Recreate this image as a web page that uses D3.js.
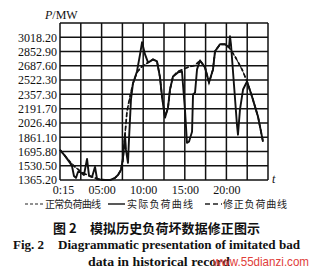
<!DOCTYPE html>
<html><head><meta charset="utf-8">
<script src="https://cdn.jsdelivr.net/npm/d3@7"></script>
<style>
html,body{margin:0;padding:0;background:#fff;}
svg{display:block;}
</style></head>
<body>
<script>
// ---------- data ----------
const yTicks = [1365.20,1530.50,1695.80,1861.10,2026.40,2191.70,2357.30,2522.30,2687.60,2852.90,3018.20];
const yTickLabels = ["1365.20","1530.50","1695.80","1861.10","2026.40","2191.70","2357.30","2522.30","2687.60","2852.90","3018.20"];
const xTicks = [0,5,10,15,20];
const xTickLabels = ["0:15","05:00","10:00","15:00","20:00"];
const xGrid = [0,2.5,5,7.5,10,12.5,15,17.5,20,22.5,25];

// normal load curve (正常负荷曲线)
const normalT = [0,0.60,1.20,1.80,2.40,3.00,3.61,4.21,4.81,5.41,6.01,6.61,6.97,7.33,7.57,7.81,8.05,8.41,8.77,9.25,9.74,10.22,10.82,11.18,11.66,12.02,12.26,12.62,12.98,13.22,13.58,14.18,14.78,15.63,16.23,16.83,17.43,17.91,18.39,18.63,19.23,19.83,20.31,21.03,21.88,22.48,23.08,23.80,24.40];
const normalV = [1714,1645,1575,1517,1470,1435,1412,1389,1371,1365,1365,1389,1423,1482,1598,1889,2157,2331,2483,2611,2669,2704,2739,2762,2739,2553,2331,2099,2203,2413,2564,2622,2646,2681,2692,2750,2669,2494,2646,2855,2937,2937,2902,2797,2646,2506,2331,2099,1808];

// actual load curve with bad data (实际负荷曲线)
const actualT = [0,0.60,1.20,1.44,1.68,1.92,2.16,2.40,2.88,3.25,3.49,3.85,4.21,4.45,4.81,5.41,6.01,6.61,6.97,7.33,7.57,7.81,7.93,8.17,8.29,8.53,8.77,9.25,9.62,9.86,10.22,10.58,10.82,11.18,11.66,12.02,12.26,12.62,12.98,13.22,13.58,14.18,14.66,15.02,15.26,15.50,15.87,15.99,16.23,16.47,16.83,17.43,17.91,18.39,18.63,19.23,19.83,20.31,20.43,20.55,20.91,21.27,21.39,21.63,22.00,22.48,23.08,23.80,24.40];
const actualV = [1714,1645,1563,1528,1412,1389,1458,1458,1423,1610,1412,1400,1517,1377,1371,1365,1365,1389,1423,1482,1621,1889,1714,1563,1831,2296,2483,2622,2820,2960,2820,2727,2739,2762,2739,2553,2331,2087,2203,2413,2564,2611,2622,2180,1796,1808,1924,2355,2378,2646,2750,2669,2494,2646,2855,2937,2937,2902,3030,2937,2471,2005,1889,2180,2413,2506,2331,2099,1808];

// corrected load curve (修正负荷曲线)
const correctedT = [0,0.60,1.20,1.80,2.40,3.00,3.61,4.21,4.81,5.41,6.01,6.61,6.97,7.33,7.57,7.81,8.05,8.41,8.77,9.25,9.74,10.22,10.82,11.18,11.66,12.02,12.26,12.62,12.98,13.22,13.58,14.18,14.78,15.63,16.23,16.83,17.43,17.91,18.39,18.63,19.23,19.83,20.31,21.03,21.88,22.48,23.08,23.80,24.40];
const correctedV = [1714,1645,1575,1517,1470,1435,1412,1389,1371,1365,1365,1389,1423,1482,1598,1889,2157,2331,2483,2611,2669,2704,2739,2762,2739,2553,2331,2099,2203,2413,2564,2622,2646,2681,2692,2750,2669,2494,2646,2855,2937,2937,2902,2797,2646,2506,2331,2099,1808];

const legendLabels = ["正常负荷曲线","实际负荷曲线","修正负荷曲线"];

// ---------- drawing ----------
const W = 317, H = 271;
const svg = d3.select("body").append("svg").attr("width",W).attr("height",H);
const x = d3.scaleLinear().domain([0,25]).range([60,268]);
const y = d3.scaleLinear().domain([1365.2,3183.5]).range([180,23]);
const serif = "'Liberation Serif','Times New Roman',serif";
const cjk = "'Noto Sans CJK SC',sans-serif";

// grid
const g = svg.append("g");
g.selectAll("line.v").data(xGrid).join("line")
  .attr("x1",d=>x(d)).attr("x2",d=>x(d)).attr("y1",23).attr("y2",180)
  .attr("stroke","#111").attr("stroke-width",1.5);
g.selectAll("line.h").data(yTicks.concat([3183.5])).join("line")
  .attr("y1",d=>y(d)).attr("y2",d=>y(d)).attr("x1",60).attr("x2",268)
  .attr("stroke","#111").attr("stroke-width",1.5);

// axes (labels only)
const yAxis = d3.axisLeft(y).tickValues(yTicks).tickSize(0).tickPadding(3)
  .tickFormat((d,i)=>yTickLabels[i]);
const ya = svg.append("g").attr("transform","translate(60,0)").call(yAxis);
ya.select(".domain").remove();
ya.selectAll("text").attr("font-family",serif).attr("font-size",12).attr("fill","#111");

const xAxis = d3.axisBottom(x).tickValues(xTicks).tickSize(0).tickPadding(5)
  .tickFormat((d,i)=>xTickLabels[i]);
const xa = svg.append("g").attr("transform","translate(0,180)").call(xAxis);
xa.select(".domain").remove();
xa.selectAll("text").attr("font-family",serif).attr("font-size",12).attr("fill","#111")
  .attr("dx",(d,i)=>i===0?3:0);

svg.append("text").attr("x",45).attr("y",19).attr("font-family",serif).attr("font-size",12).attr("fill","#111")
  .html('<tspan font-style="italic">P</tspan>/MW');
svg.append("text").attr("x",272).attr("y",183).attr("font-family",serif).attr("font-size",12)
  .attr("font-style","italic").attr("fill","#111").text("t");

// lines
const line = d3.line().x(d=>x(d[0])).y(d=>y(d[1])).curve(d3.curveLinear);
const pts = (T,V)=>T.map((t,i)=>[t,V[i]]);
svg.append("path").attr("d",line(pts(normalT,normalV))).attr("fill","none")
  .attr("stroke","#111").attr("stroke-width",1.2).attr("stroke-dasharray","2,1.5");
svg.append("path").attr("d",line(pts(correctedT,correctedV))).attr("fill","none")
  .attr("stroke","#111").attr("stroke-width",1.7).attr("stroke-dasharray","4,2.5");
svg.append("path").attr("d",line(pts(actualT,actualV))).attr("fill","none")
  .attr("stroke","#111").attr("stroke-width",1.9).attr("stroke-linejoin","round");

// legend
const lg = svg.append("g");
lg.append("line").attr("x1",25).attr("x2",43).attr("y1",204).attr("y2",204)
  .attr("stroke","#222").attr("stroke-width",1).attr("stroke-dasharray","3,2");
lg.append("line").attr("x1",108).attr("x2",125).attr("y1",204).attr("y2",204)
  .attr("stroke","#222").attr("stroke-width",1.5);
lg.append("line").attr("x1",205).attr("x2",222).attr("y1",204).attr("y2",204)
  .attr("stroke","#222").attr("stroke-width",1.6).attr("stroke-dasharray","5,3");
const lx = [45,127,223], lw = [56,66,64];
lg.selectAll("text").data(legendLabels).join("text")
  .attr("x",(d,i)=>lx[i]).attr("y",208).attr("font-family",cjk).attr("font-size",10)
  .attr("fill","#222").attr("textLength",(d,i)=>lw[i]).attr("lengthAdjust","spacing").text(d=>d);

// captions
svg.append("text").attr("x",53).attr("y",233).attr("font-family",cjk).attr("font-size",13)
  .attr("font-weight","bold").attr("fill","#111").text("图 2");
svg.append("text").attr("x",90).attr("y",233).attr("font-family",cjk).attr("font-size",13)
  .attr("font-weight","bold").attr("fill","#111").attr("textLength",170).attr("lengthAdjust","spacing")
  .text("模拟历史负荷坏数据修正图示");
svg.append("text").attr("x",13).attr("y",249).attr("font-family",serif).attr("font-size",13)
  .attr("font-weight","bold").attr("fill","#111").text("Fig. 2");
svg.append("text").attr("x",58).attr("y",249).attr("font-family",serif).attr("font-size",13)
  .attr("font-weight","bold").attr("fill","#111").attr("textLength",242).attr("lengthAdjust","spacingAndGlyphs")
  .text("Diagrammatic presentation of imitated bad");
svg.append("text").attr("x",88).attr("y",266).attr("font-family",serif).attr("font-size",13)
  .attr("font-weight","bold").attr("fill","#111").attr("textLength",142).attr("lengthAdjust","spacingAndGlyphs")
  .text("data in historical record");
svg.append("text").attr("x",213).attr("y",266).attr("font-family","'Liberation Sans',Arial,sans-serif")
  .attr("font-size",13).attr("fill","#e0403a").attr("textLength",96).attr("lengthAdjust","spacingAndGlyphs")
  .text("www.55dianzi.com");
</script>
</body></html>
